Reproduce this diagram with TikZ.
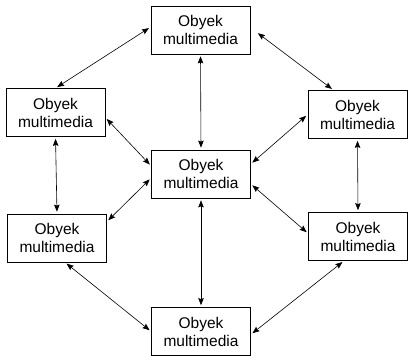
\documentclass[tikz,border=0pt]{standalone}
\usepackage{fontspec}
\setmainfont{Liberation Sans}
\usetikzlibrary{arrows.meta,positioning}

\begin{document}
\begin{tikzpicture}[
        x=1pt, y=-1pt,
        objbox/.style={rectangle, draw=black, line width=0.7pt, fill=white, minimum width=99pt, minimum height=48pt, inner sep=0pt, align=center, font=\fontsize{15.5}{18}\selectfont},
        link/.style={<->, >={Stealth[length=7pt, width=5.5pt, inset=1pt]}, line width=0.6pt, shorten <=2pt, shorten >=2pt}
    ]
    \useasboundingbox (0,0) rectangle (408,356);

    % Boxes
    \node[objbox] (top) at (200.5,30) {Obyek\\multimedia};
    \node[objbox] (upleft) at (55.5,112.5) {Obyek\\multimedia};
    \node[objbox] (upright) at (357.5,114.5) {Obyek\\multimedia};
    \node[objbox] (mid) at (201,174) {Obyek\\multimedia};
    \node[objbox] (lowleft) at (57,238) {Obyek\\multimedia};
    \node[objbox] (lowright) at (358,236.5) {Obyek\\multimedia};
    \node[objbox] (bottom) at (201,331.5) {Obyek\\multimedia};

    % Arrows
    \draw[link] ([yshift=3pt]top.west) -- (upleft.north);
    \draw[link] ([xshift=6pt,yshift=-2pt]top.east) -- ([xshift=-24pt]upright.north);
    \draw[link] (top.south) -- (mid.north);
    \draw[link] ([yshift=-5pt]upleft.east) -- ([yshift=8pt]mid.west);
    \draw[link] (upright.west) -- ([yshift=10pt]mid.east);
    \draw[link] (upleft.south) -- (lowleft.north);
    \draw[link] (upright.south) -- (lowright.north);
    \draw[link] ([yshift=-4pt]mid.west) -- ([yshift=-8pt]lowleft.north east);
    \draw[link] ([yshift=-10pt]mid.east) -- ([yshift=3pt]lowright.west);
    \draw[link] (mid.south) -- (bottom.north);
    \draw[link] ([xshift=8pt]lowleft.south) -- (bottom.west);
    \draw[link] ([xshift=-14pt]lowright.south) -- ([yshift=-3pt]bottom.east);

\end{tikzpicture}
\end{document}
